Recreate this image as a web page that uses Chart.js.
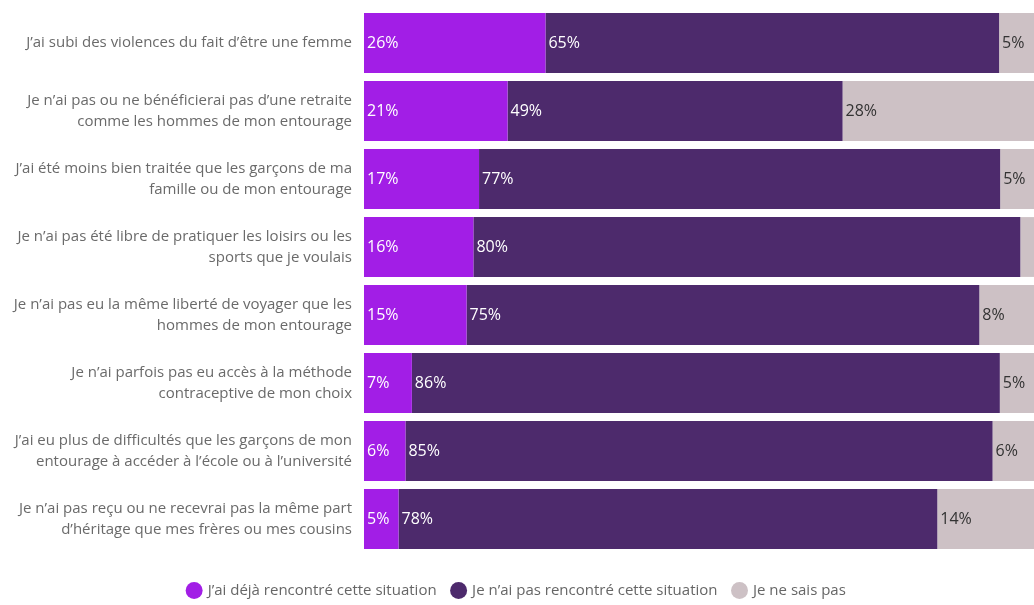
<!DOCTYPE html>
<html>
<head>
<meta charset="utf-8">
<script src="https://cdn.jsdelivr.net/npm/chart.js@4/dist/chart.umd.min.js"></script>
<style>
  html, body { margin: 0; padding: 0; background: #ffffff; }
  #wrap { width: 1034px; height: 605px; position: relative; }
</style>
</head>
<body>
<div id="wrap"><canvas id="c" width="1034" height="605"></canvas></div>
<script>
const categories = [
  ["J’ai subi des violences du fait d’être une femme"],
  ["Je n’ai pas ou ne bénéficierai pas d’une retraite", "comme les hommes de mon entourage"],
  ["J’ai été moins bien traitée que les garçons de ma", "famille ou de mon entourage"],
  ["Je n’ai pas été libre de pratiquer les loisirs ou les", "sports que je voulais"],
  ["Je n’ai pas eu la même liberté de voyager que les", "hommes de mon entourage"],
  ["Je n’ai parfois pas eu accès à la méthode", "contraceptive de mon choix"],
  ["J’ai eu plus de difficultés que les garçons de mon", "entourage à accéder à l’école ou à l’université"],
  ["Je n’ai pas reçu ou ne recevrai pas la même part", "d’héritage que mes frères ou mes cousins"]
];
const seriesNames = [
  "J’ai déjà rencontré cette situation",
  "Je n’ai pas rencontré cette situation",
  "Je ne sais pas"
];
const dejaRencontre = [26, 21, 17, 16, 15, 7, 6, 5];
const pasRencontre  = [65, 49, 77, 80, 75, 86, 85, 78];
const neSaisPas     = [5, 28, 5, 2, 8, 5, 6, 14];

const colors = ["#a21ee6", "#4d2a6c", "#cdc1c5"];
const labelColors = ["#ffffff", "#ffffff", "#333333"];

const rawSeries = [dejaRencontre, pasRencontre, neSaisPas];
const totals = categories.map((_, i) => rawSeries.reduce((s, a) => s + a[i], 0));
const shares = rawSeries.map(a => a.map((v, i) => v / totals[i] * 100));

const FONT = "'Open Sans', 'Noto Sans', sans-serif";
Chart.defaults.font.family = FONT;

const valueLabels = {
  id: 'valueLabels',
  afterDatasetsDraw(chart) {
    const ctx = chart.ctx;
    ctx.save();
    ctx.font = "16px " + FONT;
    ctx.textBaseline = 'middle';
    ctx.textAlign = 'left';
    chart.data.datasets.forEach((ds, i) => {
      const meta = chart.getDatasetMeta(i);
      meta.data.forEach((bar, j) => {
        const left = Math.min(bar.x, bar.base);
        const w = Math.abs(bar.x - bar.base);
        if (w < 25) return;
        ctx.fillStyle = labelColors[i];
        ctx.fillText(rawSeries[i][j] + '%', left + 3, bar.y);
      });
    });
    ctx.restore();
  }
};

new Chart(document.getElementById('c'), {
  type: 'bar',
  data: {
    labels: categories,
    datasets: seriesNames.map((name, i) => ({
      label: name,
      data: shares[i],
      backgroundColor: colors[i],
      borderWidth: 0,
      barPercentage: 0.88,
      categoryPercentage: 1.0
    }))
  },
  options: {
    indexAxis: 'y',
    responsive: false,
    animation: false,
    layout: { padding: { top: 9, right: 0, bottom: -3, left: 0 } },
    scales: {
      x: {
        stacked: true, min: 0, max: 100,
        display: true,
        ticks: { display: false },
        grid: { display: false, drawTicks: false },
        border: { display: false },
        afterFit(axis) { axis.height = 14; axis.paddingLeft = 0; axis.paddingRight = 0; }
      },
      y: {
        stacked: true,
        grid: { display: false, drawTicks: false },
        border: { display: false },
        ticks: {
          color: '#6a6a6a',
          font: { size: 15, lineHeight: 1.4 },
          padding: 12
        },
        afterFit(axis) { axis.width = 364; axis.paddingTop = 0; axis.paddingBottom = 0; }
      }
    },
    plugins: {
      legend: {
        position: 'bottom',
        labels: {
          usePointStyle: true,
          pointStyle: 'circle',
          boxWidth: 12,
          boxHeight: 12,
          padding: 16,
          color: '#666666',
          font: { size: 15 }
        }
      },
      tooltip: { enabled: false }
    }
  },
  plugins: [valueLabels]
});
</script>
</body>
</html>
